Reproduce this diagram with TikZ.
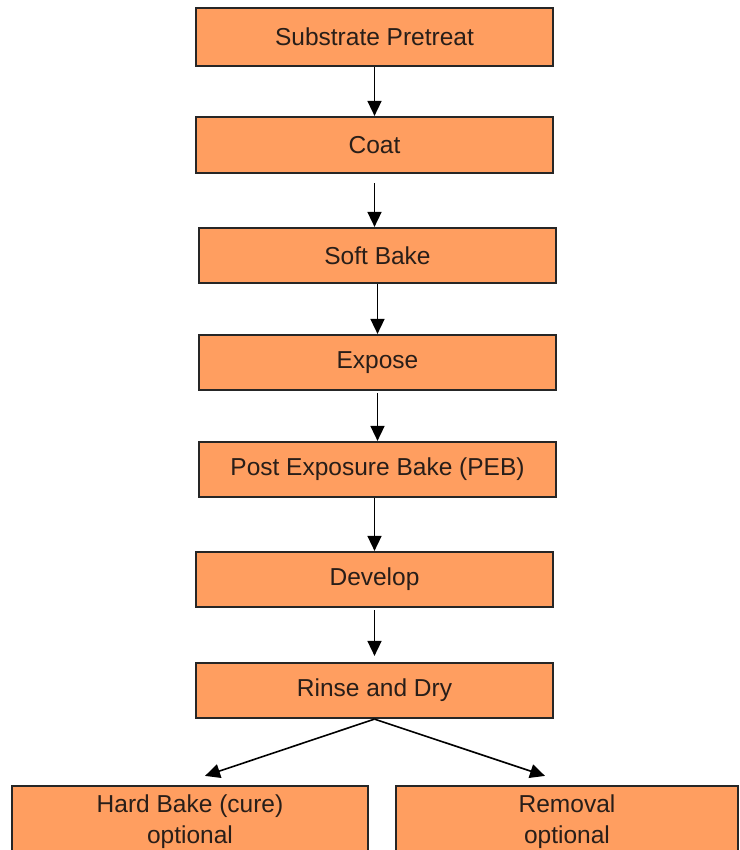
\documentclass[tikz,border=0pt]{standalone}
\usepackage{fontspec}
\setmainfont{Liberation Sans}
\usepackage{tikz}
\usetikzlibrary{arrows.meta}
\definecolor{boxorange}{RGB}{255,158,96}
\definecolor{boxtext}{RGB}{40,30,25}

\begin{document}
\begin{tikzpicture}[x=1pt,y=-1pt,
        stepbox/.style={draw=black!85,line width=2.2pt,fill=boxorange,text=boxtext,
            minimum width=357pt,minimum height=55pt,inner sep=0pt,
            align=center,font=\fontsize{24.5}{31}\selectfont},
        flow/.style={line width=1.6pt,-{Triangle[length=15pt,width=14pt]}}]
        \clip (0,0) rectangle (739,850);
        \fill[white] (0,0) rectangle (739,850);
        
        \node[stepbox,minimum height=58pt] (pretreat) at (374.5,37) {Substrate Pretreat};
        \node[stepbox,minimum height=56pt] (coat) at (374.5,145) {Coat};
        \node[stepbox] (softbake) at (377.5,255.5) {Soft Bake};
        \node[stepbox] (expose) at (377.5,362.5) {Expose};
        \node[stepbox] (peb) at (377.5,469.5) {Post Exposure Bake (PEB)};
        \node[stepbox] (develop) at (374.5,579.5) {Develop};
        \node[stepbox] (rinse) at (374.5,690.5) {Rinse and Dry};
        \node[stepbox,minimum width=356pt,minimum height=72pt] (hardbake) at (190,822) {Hard Bake (cure)\\optional};
        \node[stepbox,minimum width=342pt,minimum height=72pt] (removal) at (567,822) {Removal\\optional};
        
        \draw[flow] (pretreat.south) -- (coat.north);
        \draw[flow] ([yshift=-9pt]coat.south) -- ([xshift=-3pt]softbake.north);
        \draw[flow] (softbake.south) -- (expose.north);
        \draw[flow] ([yshift=-2pt]expose.south) -- (peb.north);
        \draw[flow] (peb.south -| develop.north) -- (develop.north);
        \draw[flow] ([yshift=-2pt]develop.south) -- ([yshift=6pt]rinse.north);
        \draw[flow] (rinse.south) -- ([xshift=15pt,yshift=9pt]hardbake.north);
        \draw[flow] (rinse.south) -- ([xshift=-22pt,yshift=9pt]removal.north);
    \end{tikzpicture}
\end{document}
